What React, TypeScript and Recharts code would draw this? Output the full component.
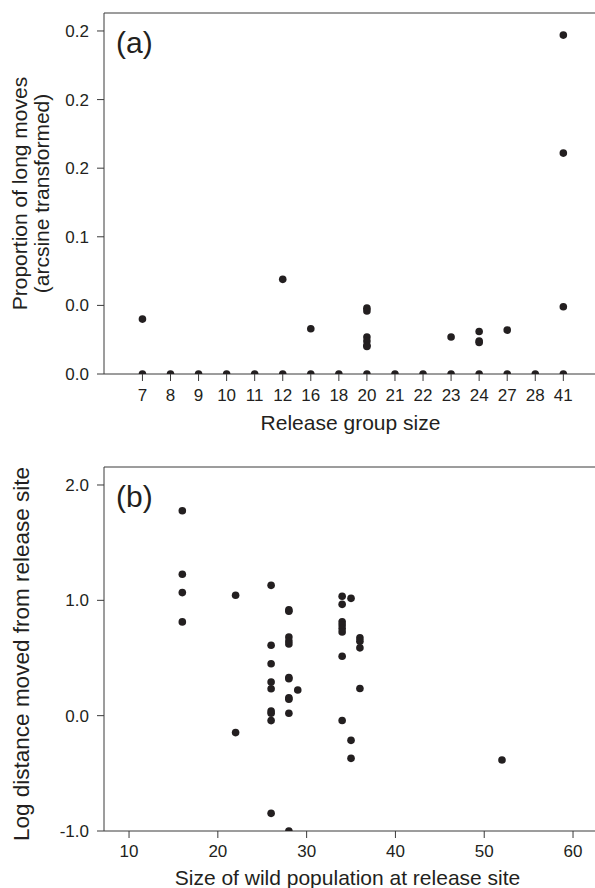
import { ScatterChart, Scatter, XAxis, YAxis, ReferenceLine, Label } from 'recharts';

// Panel (a): release group size (categorical) vs proportion of long moves
const releaseGroups = ['7', '8', '9', '10', '11', '12', '16', '18', '20', '21', '22', '23', '24', '27', '28', '41'];
const longMoveGroup = [
  '7', '8', '9', '10', '11', '12', '16', '18', '20', '21', '22', '23', '24', '27', '28', '41',
  '7', '12', '16', '20', '20', '20', '20', '20', '20', '23', '24', '24', '24', '27', '41', '41', '41',
];
const longMoveValue = [
  0, 0, 0, 0, 0, 0, 0, 0, 0, 0, 0, 0, 0, 0, 0, 0,
  0.040, 0.069, 0.033, 0.048, 0.046, 0.027, 0.024, 0.021, 0.020, 0.027, 0.031, 0.024, 0.023, 0.032, 0.049, 0.161, 0.247,
];
const propTicks = [0, 0.05, 0.1, 0.15, 0.2, 0.25];
const propTickLabels = ['0.0', '0.0', '0.1', '0.2', '0.2', '0.2'];

// Panel (b): wild population size vs log distance moved
const wildPop = [
  16, 16, 16, 16,
  22, 22,
  26, 26, 26, 26, 26, 26, 26, 26, 26,
  28, 28, 28, 28, 28, 28, 28, 28, 28, 28, 28,
  29,
  34, 34, 34, 34, 34, 34, 34, 34,
  35, 35, 35,
  36, 36, 36, 36,
  52,
];
const logDistance = [
  1.777, 1.226, 1.067, 0.813,
  1.044, -0.147,
  1.13, 0.611, 0.45, 0.292, 0.233, 0.041, 0.021, -0.043, -0.847,
  0.917, 0.905, 0.682, 0.648, 0.622, 0.33, 0.32, 0.154, 0.143, 0.021, -1.0,
  0.223,
  1.036, 0.965, 0.814, 0.786, 0.755, 0.725, 0.515, -0.042,
  1.017, -0.214, -0.37,
  0.675, 0.646, 0.588, 0.236,
  -0.384,
];
const popTicks = [10, 20, 30, 40, 50, 60];
const distTicks = [-1, 0, 1, 2];

const FONT = '"Liberation Sans", Arial, Helvetica, sans-serif';
const INK = '#231f20';
const AXIS = '#3a3a3a';

const movesData = longMoveGroup.map((g, i) => ({ x: releaseGroups.indexOf(g), y: longMoveValue[i] }));
const distData = wildPop.map((p, i) => ({ x: p, y: logDistance[i] }));

const tickStyle = { fill: INK, fontSize: 17, fontFamily: FONT };

const Dot = (p: any) => <circle cx={p.cx} cy={p.cy} r={3.8} fill={INK} />;

export default function App() {
  const yMaxA = 0.2631;
  const yMaxB = 2.156;
  return (
    <div style={{ position: 'absolute', left: 0, top: 0, width: 595, height: 888, overflow: 'hidden', background: '#fff' }}>
      <div style={{ position: 'absolute', left: 0, top: 0 }}>
        <ScatterChart width={600} height={440} margin={{ top: 13, right: 3, bottom: 36, left: 0 }}>
          <XAxis
            type="number"
            dataKey="x"
            domain={[-1.37, 16.2]}
            ticks={releaseGroups.map((_, i) => i)}
            tickFormatter={(v: number) => releaseGroups[v] ?? ''}
            interval={0}
            allowDataOverflow
            height={30}
            tickSize={7}
            tickMargin={8}
            stroke={AXIS}
            tick={tickStyle}
          >
            <Label
              content={({ viewBox }: any) => (
                <text x={viewBox.x + viewBox.width / 2} y={viewBox.y + 56} textAnchor="middle" fontSize={21} fontFamily={FONT} fill={INK}>
                  Release group size
                </text>
              )}
            />
          </XAxis>
          <YAxis
            type="number"
            dataKey="y"
            domain={[0, yMaxA]}
            ticks={propTicks}
            tickFormatter={(v: number) => propTickLabels[propTicks.findIndex((t) => Math.abs(t - v) < 1e-9)] ?? ''}
            interval={0}
            allowDataOverflow
            width={104}
            tickSize={7}
            tickMargin={8}
            stroke={AXIS}
            tick={tickStyle}
          >
            <Label
              content={({ viewBox }: any) => {
                const cy = viewBox.y + viewBox.height / 2;
                return (
                  <g fontSize={21} fontFamily={FONT} fill={INK} textAnchor="middle">
                    <text x={27} y={cy} transform={`rotate(-90, 27, ${cy})`}>Proportion of long moves</text>
                    <text x={49} y={cy} transform={`rotate(-90, 49, ${cy})`}>(arcsine transformed)</text>
                  </g>
                );
              }}
            />
          </YAxis>
          <ReferenceLine y={yMaxA} stroke={AXIS} ifOverflow="extendDomain" />
          <Scatter data={movesData} isAnimationActive={false} shape={Dot} />
        </ScatterChart>
      </div>
      <div style={{ position: 'absolute', left: 0, top: 440 }}>
        <ScatterChart width={600} height={448} margin={{ top: 27, right: 3, bottom: 27, left: 0 }}>
          <XAxis
            type="number"
            dataKey="x"
            domain={[7.18, 62.7]}
            ticks={popTicks}
            interval={0}
            allowDataOverflow
            height={30}
            tickSize={7}
            tickMargin={7}
            stroke={AXIS}
            tick={tickStyle}
          >
            <Label
              content={({ viewBox }: any) => (
                <text x={viewBox.x + viewBox.width / 2 - 3} y={viewBox.y + 54} textAnchor="middle" fontSize={21} fontFamily={FONT} fill={INK}>
                  Size of wild population at release site
                </text>
              )}
            />
          </XAxis>
          <YAxis
            type="number"
            dataKey="y"
            domain={[-1, yMaxB]}
            ticks={distTicks}
            tickFormatter={(v: number) => v.toFixed(1)}
            interval={0}
            allowDataOverflow
            width={104}
            tickSize={7}
            tickMargin={8}
            stroke={AXIS}
            tick={tickStyle}
          >
            <Label
              content={({ viewBox }: any) => {
                const cy = viewBox.y + viewBox.height / 2 + 5;
                return (
                  <text x={29} y={cy} transform={`rotate(-90, 29, ${cy})`} textAnchor="middle" fontSize={22.5} fontFamily={FONT} fill={INK}>
                    Log distance moved from release site
                  </text>
                );
              }}
            />
          </YAxis>
          <ReferenceLine y={yMaxB} stroke={AXIS} ifOverflow="extendDomain" />
          <Scatter data={distData} isAnimationActive={false} shape={Dot} />
        </ScatterChart>
      </div>
      <svg width={595} height={888} style={{ position: 'absolute', left: 0, top: 0, pointerEvents: 'none' }}>
        <text x={116} y={53} fontSize={30} fontFamily={FONT} fill={INK}>(a)</text>
        <text x={116} y={507} fontSize={30} fontFamily={FONT} fill={INK}>(b)</text>
      </svg>
    </div>
  );
}
